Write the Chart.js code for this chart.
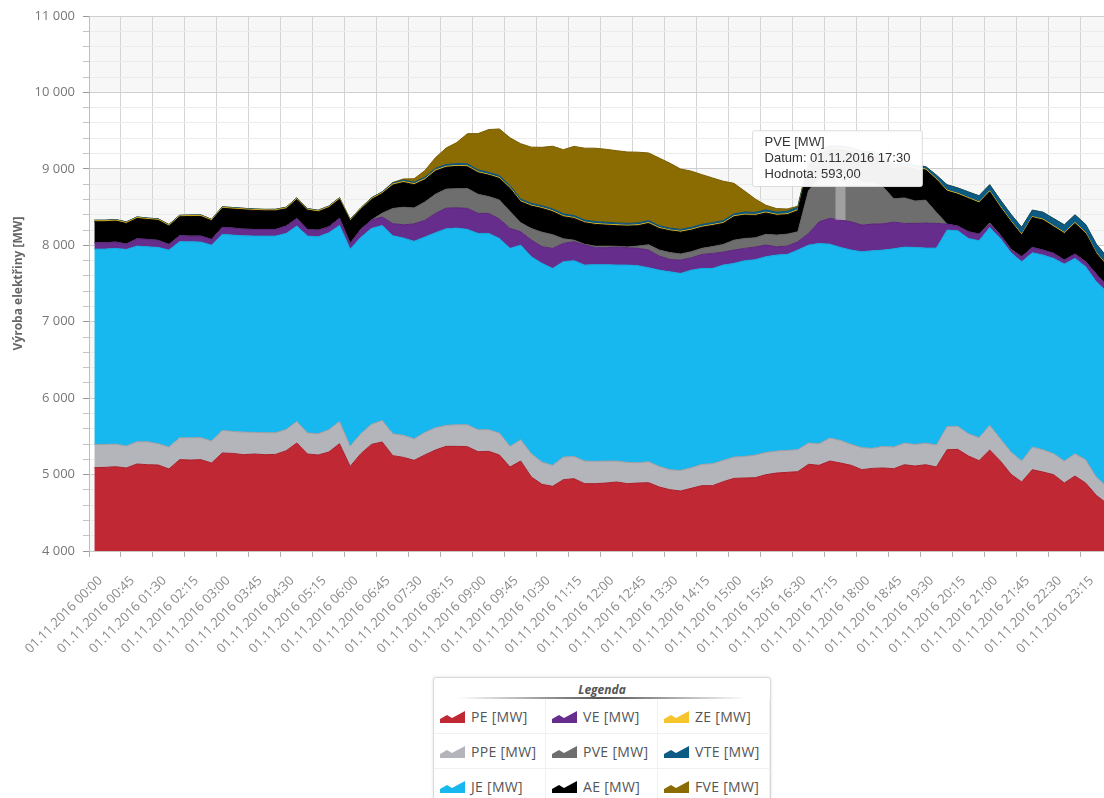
<!DOCTYPE html>
<html lang="cs">
<head>
<meta charset="utf-8">
<title>Výroba elektřiny</title>
<script src="https://cdn.jsdelivr.net/npm/chart.js@4.4.1/dist/chart.umd.min.js"></script>
<style>
  html, body { margin: 0; padding: 0; width: 1104px; height: 798px; overflow: hidden; background: #fff; }
  #wrap { position: absolute; left: 0; top: 0; width: 1134px; height: 660px; }
  #legend {
    position: absolute; left: 433px; top: 677px; width: 336px; height: 140px;
    border: 1px solid #d9d9d9; border-radius: 3px; background: #fff;
    box-shadow: 0 0 3px rgba(0,0,0,0.12); font-family: 'Open Sans', sans-serif;
  }
  #legend .title { text-align: center; font-weight: bold; font-style: italic; font-size: 12px; color: #555; height: 15px; line-height: 15px; margin-top: 4px; }
  #legend .rule { height: 2px; margin: 0 24px; background: linear-gradient(to right, rgba(80,80,80,0), #555 50%, rgba(80,80,80,0)); }
  #legend .grid { display: grid; grid-template-columns: repeat(3, 1fr); }
  #legend .item { height: 34px; display: flex; align-items: center; padding-left: 6px; border-right: 1px solid #f0f0f0; border-bottom: 1px solid #f0f0f0; font-size: 14px; color: #555; letter-spacing: 0.3px; }
  #legend .item svg { margin-right: 6px; flex: none; }
</style>
</head>
<body>
<div id="wrap"><canvas id="c" width="1134" height="660"></canvas></div>
<div id="legend"><div class="title">Legenda</div><div class="rule"></div><div class="grid" id="legendGrid"></div></div>
<script>
// 15 min intervals, 01.11.2016
const timeLabels = [];
for (let h = 0; h < 24; h++) {
  for (let m = 0; m < 60; m += 15) {
    timeLabels.push('01.11.2016 ' + String(h).padStart(2, '0') + ':' + String(m).padStart(2, '0'));
  }
}

const pe = [
  5090, 5094, 5103, 5086, 5138, 5129, 5125, 5073, 5195, 5190,
  5195, 5151, 5282, 5277, 5260, 5269, 5260, 5264, 5312, 5413,
  5269, 5256, 5295, 5404, 5107, 5273, 5395, 5426, 5247, 5225,
  5186, 5256, 5321, 5369, 5369, 5365, 5299, 5304, 5256, 5099,
  5177, 4968, 4872, 4846, 4933, 4946, 4881, 4881, 4889, 4903,
  4881, 4889, 4894, 4837, 4802, 4785, 4820, 4855, 4855, 4907,
  4950, 4955, 4959, 4998, 5020, 5029, 5038, 5134, 5121, 5177,
  5151, 5121, 5064, 5081, 5086, 5077, 5129, 5112, 5129, 5099,
  5325, 5330, 5243, 5182, 5321, 5177, 5003, 4903, 5064, 5033,
  4998, 4889, 4981, 4889, 4728, 4620
];
const ppe = [
  305, 301, 296, 288, 292, 301, 279, 288, 288, 292,
  288, 288, 296, 288, 296, 283, 288, 283, 279, 283,
  275, 279, 292, 292, 266, 262, 262, 283, 288, 288,
  283, 296, 292, 275, 283, 288, 288, 283, 288, 270,
  279, 305, 292, 275, 296, 292, 296, 292, 288, 275,
  279, 266, 275, 270, 262, 270, 270, 279, 288, 279,
  279, 283, 296, 292, 288, 288, 288, 279, 283, 301,
  296, 275, 288, 262, 283, 283, 283, 283, 283, 288,
  305, 301, 292, 301, 323, 292, 292, 275, 296, 292,
  275, 288, 292, 305, 240, 218
];
const je = [
  2555, 2555, 2560, 2572, 2559, 2550, 2568, 2576, 2563, 2564,
  2559, 2563, 2564, 2568, 2568, 2568, 2572, 2573, 2564, 2555,
  2576, 2576, 2576, 2564, 2577, 2568, 2564, 2549, 2590, 2581,
  2583, 2555, 2551, 2571, 2573, 2555, 2568, 2568, 2546, 2590,
  2546, 2577, 2599, 2576, 2556, 2560, 2564, 2573, 2569, 2564,
  2581, 2578, 2537, 2568, 2589, 2577, 2585, 2563, 2554, 2555,
  2534, 2560, 2556, 2560, 2564, 2563, 2611, 2589, 2620, 2537,
  2525, 2541, 2563, 2585, 2568, 2594, 2564, 2577, 2551, 2576,
  2569, 2559, 2555, 2576, 2589, 2621, 2607, 2606, 2542, 2547,
  2555, 2577, 2555, 2525, 2554, 2550
];
const ve = [
  83, 83, 83, 70, 96, 96, 92, 74, 78, 74,
  78, 74, 92, 92, 87, 87, 87, 87, 96, 100,
  87, 87, 78, 92, 74, 105, 109, 112, 157, 174,
  227, 218, 253, 270, 266, 275, 262, 262, 253, 262,
  174, 218, 218, 262, 240, 249, 262, 222, 222, 235,
  227, 227, 231, 183, 161, 174, 161, 183, 196, 170,
  174, 161, 166, 153, 108, 109, 109, 153, 283, 337,
  358, 370, 349, 349, 344, 349, 310, 314, 327, 323,
  78, 61, 87, 87, 44, 43, 35, 66, 70, 65,
  66, 52, 57, 65, 101, 80
];
const pve = [
  0, 0, 0, 0, 0, 0, 0, 0, 0, 0,
  0, 0, 0, 0, 0, 0, 0, 0, 0, 0,
  0, 0, 0, 0, 0, 0, 0, 50, 200, 230,
  210, 240, 250, 250, 250, 260, 250, 220, 250, 220,
  120, 150, 190, 180, 60, 20, 10, 20, 20, 10,
  10, 30, 70, 80, 90, 80, 80, 80, 90, 100,
  130, 130, 120, 140, 153, 157, 131, 560, 575, 580,
  593, 585, 570, 540, 480, 305, 334, 294, 300, 144,
  0, 0, 0, 0, 15, 0, 10, 0, 0, 0,
  0, 0, 0, 0, 0, 0
];
const ae = [
  275, 275, 275, 270, 266, 262, 262, 240, 249, 257,
  257, 244, 249, 249, 253, 249, 244, 244, 227, 249,
  253, 240, 253, 249, 296, 262, 270, 256, 306, 324,
  304, 292, 304, 286, 291, 285, 282, 281, 282, 303,
  272, 295, 311, 300, 289, 285, 282, 285, 276, 269,
  273, 266, 279, 282, 285, 286, 282, 277, 276, 275,
  306, 306, 294, 280, 260, 255, 275, 330, 320, 320,
  330, 340, 350, 360, 380, 400, 410, 420, 395, 430,
  432, 417, 435, 409, 408, 362, 360, 283, 392, 393,
  348, 349, 401, 371, 271, 260
];
const ze = [
  12, 12, 13, 12, 12, 11, 12, 12, 11, 12,
  12, 11, 12, 12, 12, 11, 12, 12, 12, 13,
  12, 12, 12, 13, 12, 12, 12, 12, 13, 13,
  12, 12, 13, 12, 12, 12, 12, 11, 12, 12,
  12, 12, 11, 12, 12, 12, 11, 12, 12, 12,
  11, 12, 12, 12, 11, 12, 12, 12, 12, 11,
  12, 12, 12, 11, 12, 12, 12, 12, 11, 12,
  12, 12, 12, 12, 12, 11, 12, 12, 12, 12,
  12, 12, 11, 12, 12, 12, 12, 12, 11, 12,
  12, 12, 12, 12, 11, 12
];
const vte = [
  8, 8, 7, 8, 8, 7, 8, 8, 8, 7,
  8, 8, 8, 8, 8, 8, 7, 8, 8, 8,
  8, 8, 8, 8, 8, 8, 9, 10, 15, 18,
  20, 22, 22, 24, 25, 25, 25, 25, 25, 25,
  24, 24, 24, 25, 25, 25, 25, 25, 25, 25,
  24, 25, 25, 24, 24, 24, 25, 25, 25, 26,
  26, 28, 28, 30, 30, 32, 35, 35, 35, 36,
  36, 36, 36, 36, 36, 36, 35, 35, 32, 45,
  70, 70, 75, 80, 80, 85, 85, 90, 85, 90,
  95, 100, 100, 105, 110, 110
];
const fve = [
  0, 0, 0, 0, 0, 0, 0, 0, 0, 0,
  0, 0, 0, 0, 0, 0, 0, 0, 0, 0,
  0, 0, 0, 0, 0, 0, 0, 0, 5, 15,
  45, 85, 140, 215, 275, 395, 475, 560, 610, 625,
  725, 735, 765, 820, 840, 905, 940, 960, 955, 945,
  935, 925, 885, 885, 850, 790, 735, 650, 585, 515,
  400, 275, 175, 60, 45, 30, 12, 3, 0, 0,
  0, 0, 0, 0, 0, 0, 0, 0, 0, 0,
  0, 0, 0, 0, 0, 0, 0, 0, 0, 0,
  0, 0, 0, 0, 0, 0
];

// stacking order, bottom to top
const seriesNames = ['PE [MW]', 'PPE [MW]', 'JE [MW]', 'VE [MW]', 'PVE [MW]', 'AE [MW]', 'ZE [MW]', 'VTE [MW]', 'FVE [MW]'];
const seriesData = [pe, ppe, je, ve, pve, ae, ze, vte, fve];
const fillColors = ['#c02834', '#b4b5bb', '#16b8ef', '#672d8c', '#6e6e6e', '#000000', '#f6c42c', '#0c5b84', '#8b6c02'];
const lineColors = ['#a81f2a', '#9c9da3', '#11a8dc', '#58247a', '#606060', '#000000', '#d8aa18', '#0a4f74', '#7a5d00'];
// legend is laid out row by row
const legendOrder = ['PE [MW]', 'VE [MW]', 'ZE [MW]', 'PPE [MW]', 'PVE [MW]', 'VTE [MW]', 'JE [MW]', 'AE [MW]', 'FVE [MW]'];

const hoverSeries = seriesNames.indexOf('PVE [MW]');
const hoverIndex = timeLabels.indexOf('01.11.2016 17:30');

const fmt = v => String(v).replace(/\B(?=(\d{3})+(?!\d))/g, '\u00a0');

Chart.defaults.font.family = "'Open Sans', sans-serif";

Chart.Tooltip.positioners.pinned = function (items) {
  if (!items.length) return false;
  const el = items[0].element;
  return { x: el.x - 3, y: el.y - 44 };
};

const plotBands = {
  id: 'plotBands',
  beforeDraw(chart) {
    const { ctx, chartArea } = chart;
    const y = chart.scales.y;
    ctx.save();
    ctx.fillStyle = '#f7f7f7';
    for (let v = 4000; v < 11000; v += 2000) {
      const top = y.getPixelForValue(v + 1000);
      const bottom = y.getPixelForValue(v);
      ctx.fillRect(chartArea.left, top, chartArea.right - chartArea.left, bottom - top);
    }
    ctx.restore();
  }
};

const hoverBand = {
  id: 'hoverBand',
  afterDatasetsDraw(chart) {
    const top = chart.getDatasetMeta(hoverSeries).data[hoverIndex];
    const base = chart.getDatasetMeta(hoverSeries - 1).data[hoverIndex];
    const ctx = chart.ctx;
    ctx.save();
    ctx.fillStyle = 'rgba(255,255,255,0.35)';
    ctx.fillRect(top.x - 5, top.y, 10, base.y - top.y);
    ctx.restore();
  }
};

const datasets = seriesNames.map((name, i) => ({
  label: name,
  data: seriesData[i],
  backgroundColor: fillColors[i],
  borderColor: lineColors[i],
  borderWidth: 1,
  fill: i === 0 ? 'origin' : '-1',
  pointRadius: 0,
  pointHoverRadius: 0,
  tension: 0
}));

const chart = new Chart(document.getElementById('c'), {
  type: 'line',
  data: { labels: timeLabels, datasets },
  options: {
    responsive: false,
    animation: false,
    events: [],
    layout: { padding: { top: 16, right: 1, left: 0, bottom: 0 } },
    scales: {
      x: {
        offset: true,
        grid: {
          offset: true,
          color: ctx => ctx.index % 3 === 0 ? '#d4d4d4' : 'rgba(0,0,0,0)',
          tickColor: ctx => ctx.index % 3 === 0 ? '#b0b0b0' : 'rgba(0,0,0,0)',
          tickLength: 6
        },
        border: { color: '#c8c8c8' },
        ticks: {
          autoSkip: false,
          minRotation: 45,
          maxRotation: 45,
          padding: 16,
          labelOffset: 6,
          color: '#8a8a8a',
          font: { size: 13 },
          callback: (v, i) => i % 3 === 0 ? timeLabels[i] : ''
        },
        afterFit: s => { s.height = 109; }
      },
      y: {
        stacked: true,
        min: 4000,
        max: 11000,
        ticks: {
          stepSize: 200,
          autoSkip: false,
          padding: 8,
          color: '#777',
          font: { size: 13 },
          callback: v => v % 1000 === 0 ? fmt(v) : ''
        },
        grid: {
          color: ctx => ctx.tick && ctx.tick.value % 1000 === 0 ? '#cfcfcf' : '#ececec',
          tickColor: ctx => ctx.tick && ctx.tick.value % 1000 === 0 ? '#999' : '#c4c4c4',
          tickLength: 6
        },
        border: { color: '#bdbdbd' },
        title: {
          display: true,
          text: 'Výroba elektřiny [MW]',
          color: '#666',
          font: { size: 12, weight: 'bold' },
          padding: { top: 11, bottom: 0 }
        },
        afterFit: s => { s.width = 89; }
      }
    },
    plugins: {
      legend: { display: false },
      tooltip: {
        enabled: true,
        animation: false,
        position: 'pinned',
        xAlign: 'center',
        yAlign: 'top',
        caretSize: 0,
        caretPadding: 0,
        backgroundColor: 'rgba(255,255,255,0.95)',
        borderColor: '#dcdcdc',
        borderWidth: 1,
        cornerRadius: 2,
        titleColor: '#333',
        bodyColor: '#333',
        titleFont: { family: "'Liberation Sans', Arial, sans-serif", size: 13, weight: 'normal' },
        bodyFont: { family: "'Liberation Sans', Arial, sans-serif", size: 13 },
        titleMarginBottom: 0.5,
        bodySpacing: 0.5,
        padding: { left: 12, right: 12, top: 4, bottom: 4 },
        displayColors: false,
        callbacks: {
          title: items => items[0].dataset.label,
          label: item => ['Datum: ' + timeLabels[item.dataIndex], 'Hodnota: ' + item.raw.toFixed(2).replace('.', ',')]
        }
      }
    }
  },
  plugins: [plotBands, hoverBand]
});

const active = [{ datasetIndex: hoverSeries, index: hoverIndex }];
chart.setActiveElements(active);
chart.tooltip.setActiveElements(active, { x: 0, y: 0 });
chart.update();

// legend
const grid = document.getElementById('legendGrid');
legendOrder.forEach(name => {
  const i = seriesNames.indexOf(name);
  const item = document.createElement('div');
  item.className = 'item';
  item.innerHTML = '<svg width="25" height="13" viewBox="0 0 25 13"><path d="M0 13 L0 9 L7 5 L12 8 L25 1 L25 13 Z" fill="' + fillColors[i] + '"/></svg>';
  const span = document.createElement('span');
  span.textContent = name;
  item.appendChild(span);
  grid.appendChild(item);
});
</script>
</body>
</html>
